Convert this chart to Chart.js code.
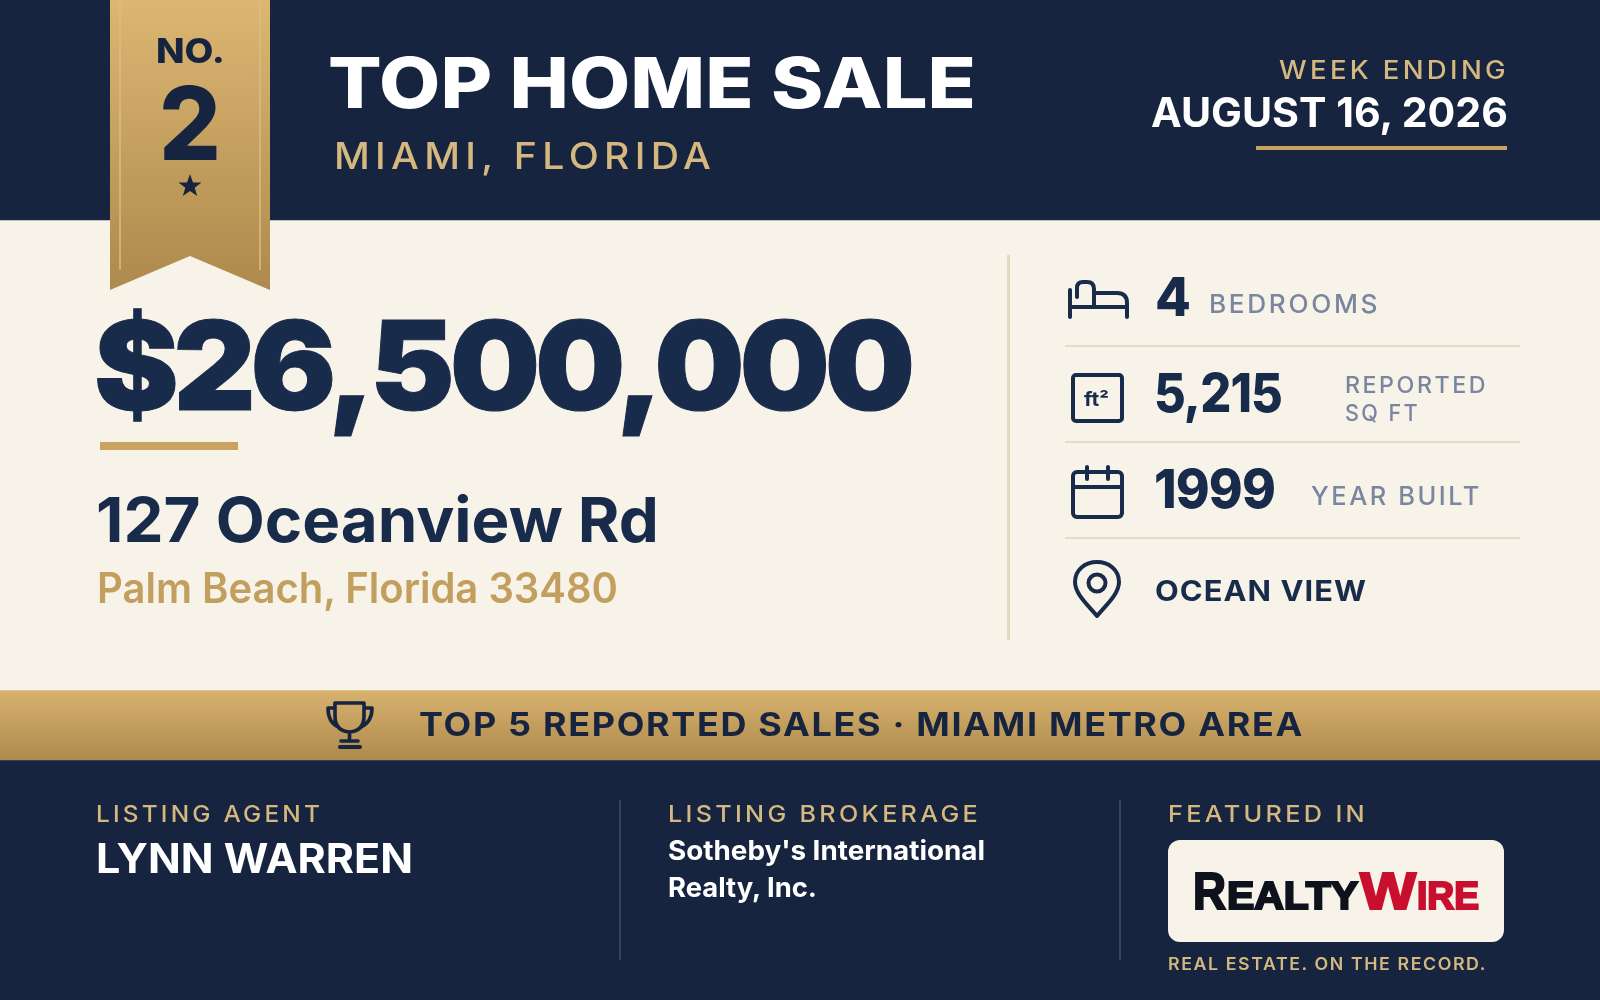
<!DOCTYPE html>
<html><head><meta charset="utf-8">
<style>html,body{margin:0;padding:0;background:#17243f;width:1600px;height:1000px;overflow:hidden}
#c{position:absolute;left:0;top:0;width:1600px;height:1000px}
#o{position:absolute;left:0;top:0}</style>
<script src="https://cdn.jsdelivr.net/npm/chart.js@4"></script>
</head><body>
<canvas id="c" width="1600" height="1000"></canvas>
<svg id="o" xmlns="http://www.w3.org/2000/svg" width="1600" height="1000" viewBox="0 0 1600 1000">
<defs>
<linearGradient id="gr" x1="0" y1="0" x2="0" y2="1"><stop offset="0" stop-color="#dcb672"/><stop offset="1" stop-color="#ad8a4d"/></linearGradient>
</defs>
<polygon points="110,0 270,0 270,290 190,256 110,290" fill="url(#gr)"/>
<path d="M120 0V270M260 0V270" stroke="#dcbd80" stroke-width="1.5" fill="none"/>
<polygon id="star" points="190,174 193,182.500 201.500,182.500 194.700,187.800 197.200,196 190,191 182.800,196 185.300,187.800 178.500,182.500 187,182.500" fill="#17243f"/>
<rect x="1256" y="146" width="251" height="4" fill="#c9a35f"/>
<rect x="100" y="442" width="138" height="8" fill="#c9a35f"/>
<rect x="1007" y="255" width="3" height="385" fill="#e0d8bf"/>
<g fill="#e5dbc5"><rect x="1065" y="345" width="455" height="2"/><rect x="1065" y="441" width="455" height="2"/><rect x="1065" y="537" width="455" height="2"/></g>
<g fill="#33425f"><rect x="619" y="800" width="2" height="160"/><rect x="1119" y="800" width="2" height="160"/></g>
<g fill="none" stroke="#192b4b" stroke-width="4" stroke-linecap="round" stroke-linejoin="round">
<path d="M1070 290V317M1070 307H1127M1127 317V303Q1127 293 1117 293H1094M1077 297V288Q1077 282 1083 282H1087Q1094 282 1094 289V307"/>
<rect x="1073" y="375" width="49" height="46" rx="3"/>
<rect x="1073" y="472" width="49" height="45" rx="4"/>
<path d="M1073 487H1122M1087 467V479M1108 467V479"/>
<path d="M1097 616C1088 605 1075 594 1075 582C1075 570 1085 562 1097 562C1109 562 1119 570 1119 582C1119 594 1106 605 1097 616Z"/>
<circle cx="1097" cy="583" r="8.500"/>
</g>
<g fill="none" stroke="#17243f" stroke-width="3.600" stroke-linecap="round" stroke-linejoin="round">
<path d="M335 703H364V716Q364 731 349.500 732Q335 731 335 716ZM335 708H328Q328 722 338 727M364 708H372Q372 722 361 727M349.500 732V740M341 741H358"/>
<path d="M340 747H360" stroke-width="4"/>
</g>
<g id="t"></g>
</svg>
<script>
// band sizes of the stacked page column, top to bottom
const bandLabels = ['Header','Body','Top 5 banner','Footer'];
const bandValues = [220, 470, 70, 240];
const bandColors = ['#17243f','#f7f3e8','gold','#17243f'];
// facts on the card
const salePrice = 26500000;
const bedrooms = 4;
const squareFeet = 5215;
const yearBuilt = 1999;
const rank = 2;
const headline = 'TOP HOME SALE';
const market = 'MIAMI, FLORIDA';
const weekLabel = 'WEEK ENDING';
const weekDate = 'AUGUST 16, 2026';
const address = '127 Oceanview Rd';
const cityLine = 'Palm Beach, Florida 33480';
const statLabels = ['BEDROOMS','REPORTED','SQ FT','YEAR BUILT','OCEAN VIEW'];
const bannerText = 'TOP 5 REPORTED SALES · MIAMI METRO AREA';
const agentLabel = 'LISTING AGENT', agentName = 'LYNN WARREN';
const brokerLabel = 'LISTING BROKERAGE', brokerLines = ["Sotheby's International",'Realty, Inc.'];
const featuredLabel = 'FEATURED IN', tagline = 'REAL ESTATE. ON THE RECORD.';

new Chart(document.getElementById('c'), {
  type: 'bar',
  data: { labels: ['page'], datasets: bandLabels.map((l, i) => ({
    label: l, data: [bandValues[i]], stack: 's', barPercentage: 1, categoryPercentage: 1, borderWidth: 0,
    backgroundColor: (ctx) => {
      if (bandColors[i] !== 'gold') return bandColors[i];
      const y = ctx.chart.scales.y;
      const start = bandValues.slice(0, i).reduce((a, b) => a + b, 0);
      const p0 = y ? y.getPixelForValue(start) : NaN, p1 = y ? y.getPixelForValue(start + bandValues[i]) : NaN;
      if (!Number.isFinite(p0) || !Number.isFinite(p1)) return '#c4a060';
      const g = ctx.chart.ctx.createLinearGradient(0, p0, 0, p1);
      g.addColorStop(0, '#d8b26e'); g.addColorStop(1, '#ad8a4d'); return g;
    } })) },
  options: { responsive: false, animation: false, devicePixelRatio: 1,
    layout: { padding: 0 },
    plugins: { legend: { display: false }, tooltip: { enabled: false } },
    scales: { x: { display: false, stacked: true }, y: { display: false, stacked: true, min: 0, max: 1000, reverse: true } } }
});

const NAVY = '#17243f', INK = '#192b4b', GOLD = '#d4b87f', SLATE = '#7a859f', WHITE = '#ffffff', TAN = '#c29f5e';
const host = document.getElementById('t');
function put(s, x, y, w, size, weight, fill, ls, family) {
  const e = document.createElementNS('http://www.w3.org/2000/svg', 'text');
  e.textContent = s; e.setAttribute('x', x); e.setAttribute('y', y);
  if (ls) e.setAttribute('letter-spacing', ls);
  if (w) { e.setAttribute('textLength', w); e.setAttribute('lengthAdjust', 'spacingAndGlyphs'); }
  e.setAttribute('font-size', size); e.setAttribute('font-weight', weight); e.setAttribute('fill', fill);
  e.setAttribute('font-family', family || 'Inter, "Noto Sans", sans-serif');
  host.appendChild(e); return e;
}
put('NO.', 156, 63, 69, 34, 800, NAVY);
put(String(rank), 159, 160, 62, 102, 800, NAVY);
put(headline, 328, 108, 648, 70, 800, WHITE);
put(market, 334, 169, 382, 37, 500, GOLD, 5);
put(weekLabel, 1279, 79, 230, 25, 500, GOLD, 3);
put(weekDate, 1151, 127, 357, 41, 700, WHITE);
put('$' + salePrice.toLocaleString('en-US'), 94, 410, 816, 124, 900, INK, -5).setAttribute('stroke', INK);
put(address, 96, 542, 563, 62, 700, INK);
put(cityLine, 97, 603, 521, 42, 600, TAN);
put(String(bedrooms), 1155, 316, 36, 54, 800, INK);
put(statLabels[0], 1209, 313, 171, 25, 500, SLATE, 2.5);
put(squareFeet.toLocaleString('en-US'), 1154, 412, 128, 54, 800, INK, -1);
put(statLabels[1], 1345, 393, 143, 23, 500, SLATE, 2.5);
put(statLabels[2], 1345, 421, 75, 23, 500, SLATE, 2.5);
put(String(yearBuilt), 1154, 508, 121, 54, 800, INK, -1);
put(statLabels[3], 1311, 505, 171, 25, 500, SLATE, 2.5);
put(statLabels[4], 1155, 601, 212, 29, 700, INK, 1);
put('ft²', 1084, 406, 25, 19, 700, INK);
put(bannerText, 419, 736, 885, 32, 700, NAVY, 1.5);
put(agentLabel, 96, 822, 227, 23, 500, GOLD, 3);
put(agentName, 96, 873, 317, 41, 700, WHITE);
put(brokerLabel, 668, 822, 313, 23, 500, GOLD, 3);
put(brokerLines[0], 668, 860, 317, 27, 700, WHITE);
put(brokerLines[1], 668, 897, 149, 27, 700, WHITE);
put(featuredLabel, 1168, 822, 200, 23, 500, GOLD, 3);
put(tagline, 1168, 970, 319, 17, 600, GOLD, 1.5);

// Featured-in wordmark plate
(function () {
  const o = document.getElementById('o'), ns = 'http://www.w3.org/2000/svg';
  const r = document.createElementNS(ns, 'rect');
  r.setAttribute('x', 1168); r.setAttribute('y', 840); r.setAttribute('width', 336); r.setAttribute('height', 102); r.setAttribute('rx', 12); r.setAttribute('fill', '#f7f3e8');
  o.insertBefore(r, host);
  const F = '"Liberation Sans", sans-serif';
  [['R', 1193, 909, 33, 52, '#0d121d'], ['EALTY', 1227, 909, 131, 39, '#0d121d'], ['W', 1360, 909, 56, 52, '#c8102e'], ['IRE', 1417, 909, 62, 39, '#c8102e']].forEach(a => {
    const e = put(a[0], a[1], a[2], a[3], a[4], 700, a[5], 0, F);
    e.setAttribute('stroke', a[5]); e.setAttribute('stroke-width', 2.2);
  });
})();
</script>
</body></html>
